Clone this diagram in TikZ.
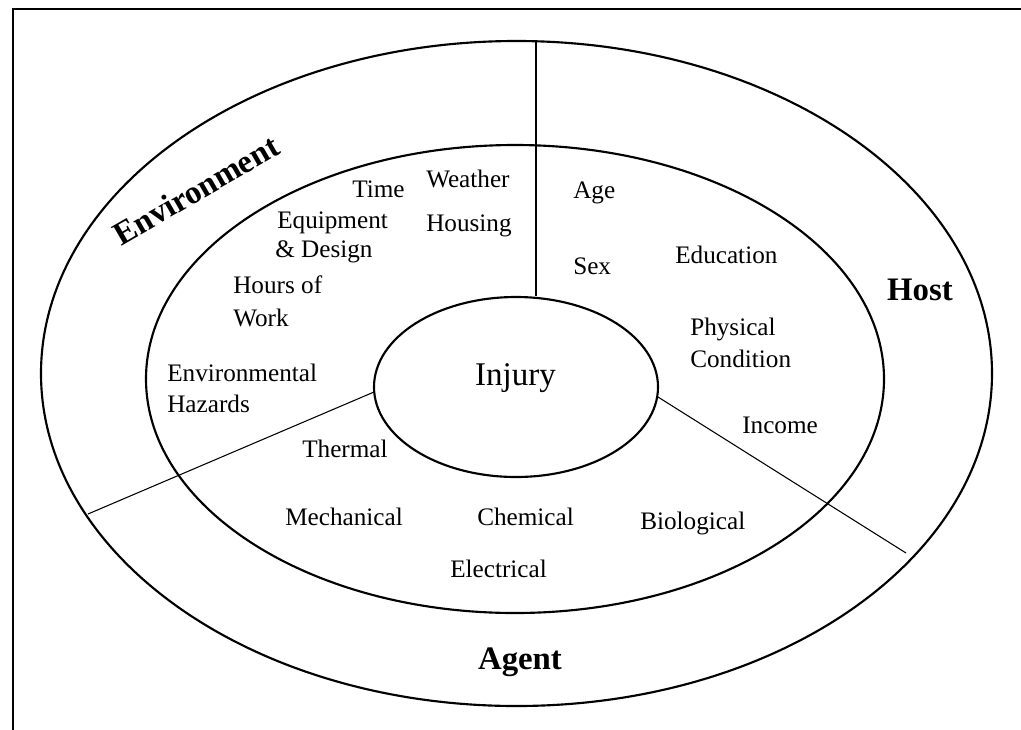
\documentclass[tikz,border=0pt]{standalone}
\usepackage{fontspec}
\setmainfont{Liberation Serif}
\usetikzlibrary{shapes.geometric}
\begin{document}
\begin{tikzpicture}[x=0.75pt,y=-0.75pt,
  frameline/.style={line width=2.2pt,line cap=rect},
  ring/.style={line width=1.6pt},
  divider/.style={line width=0.8pt},
  factor/.style={font=\fontsize{18.9}{22}\selectfont,inner sep=0pt,anchor=base west},
  sectorlabel/.style={font=\bfseries\fontsize{24.6}{28}\selectfont,inner sep=0pt},
  core/.style={draw,ellipse,ring,minimum width=213pt,minimum height=135pt,inner sep=0pt}]
\useasboundingbox (0,0) rectangle (1021,729);
% frame (cropped)
\coordinate (ftl) at (13,9);
\coordinate (ftr) at (1021,9);
\coordinate (fbl) at (13,729);
\draw[frameline] (ftr) -- (ftl) -- (fbl);
% rings
\draw[ring] (516.5,373.5) ellipse [x radius=475.5, y radius=332.5];
\draw[ring] (515,379) ellipse [x radius=369, y radius=234];
\node[core] (injury) at (516,387) {};
\node[font=\fontsize{24.8}{28}\selectfont,inner sep=0pt,anchor=base] (injurytxt) at (515.5,385) {Injury};
% dividers
\coordinate (vtop) at (536,41);
\coordinate (lend) at (88,514);
\coordinate (lstart) at (374,392);
\coordinate (rstart) at (658,397);
\coordinate (rend) at (906,553);
\draw[divider] (vtop) -- (vtop |- injury.north);
\draw[divider] (lstart) -- (lend);
\draw[divider] (rstart) -- (rend);
% sector labels
\node[sectorlabel,rotate=30] (env) at (196,190) {Environment};
\node[sectorlabel] (host) at (920,290) {Host};
\node[sectorlabel] (agent) at (520,662) {Agent};
% environment factors
\node[factor] (time) at (352,197) {Time};
\node[factor] (equip1) at (277,228) {Equipment};
\node[factor] (equip2) at (275,257) {\& Design};
\node[factor] (hours1) at (233,293) {Hours of};
\node[factor] (hours2) at (233,326) {Work};
\node[factor] (weather) at (426,187) {Weather};
\node[factor] (housing) at (426,231) {Housing};
\node[factor] (envh1) at (167,381) {Environmental};
\node[factor] (envh2) at (167,412) {Hazards};
% host factors
\node[factor] (age) at (573,198) {Age};
\node[factor] (sex) at (573,274) {Sex};
\node[factor] (edu) at (675,263) {Education};
\node[factor] (phys1) at (690,335) {Physical};
\node[factor] (phys2) at (690,367) {Condition};
\node[factor] (income) at (742,433) {Income};
% agent factors
\node[factor] (thermal) at (302,457) {Thermal};
\node[factor] (mech) at (285,525) {Mechanical};
\node[factor] (chem) at (477,525) {Chemical};
\node[factor] (bio) at (640,529) {Biological};
\node[factor] (elec) at (450,577) {Electrical};
\end{tikzpicture}
\end{document}
